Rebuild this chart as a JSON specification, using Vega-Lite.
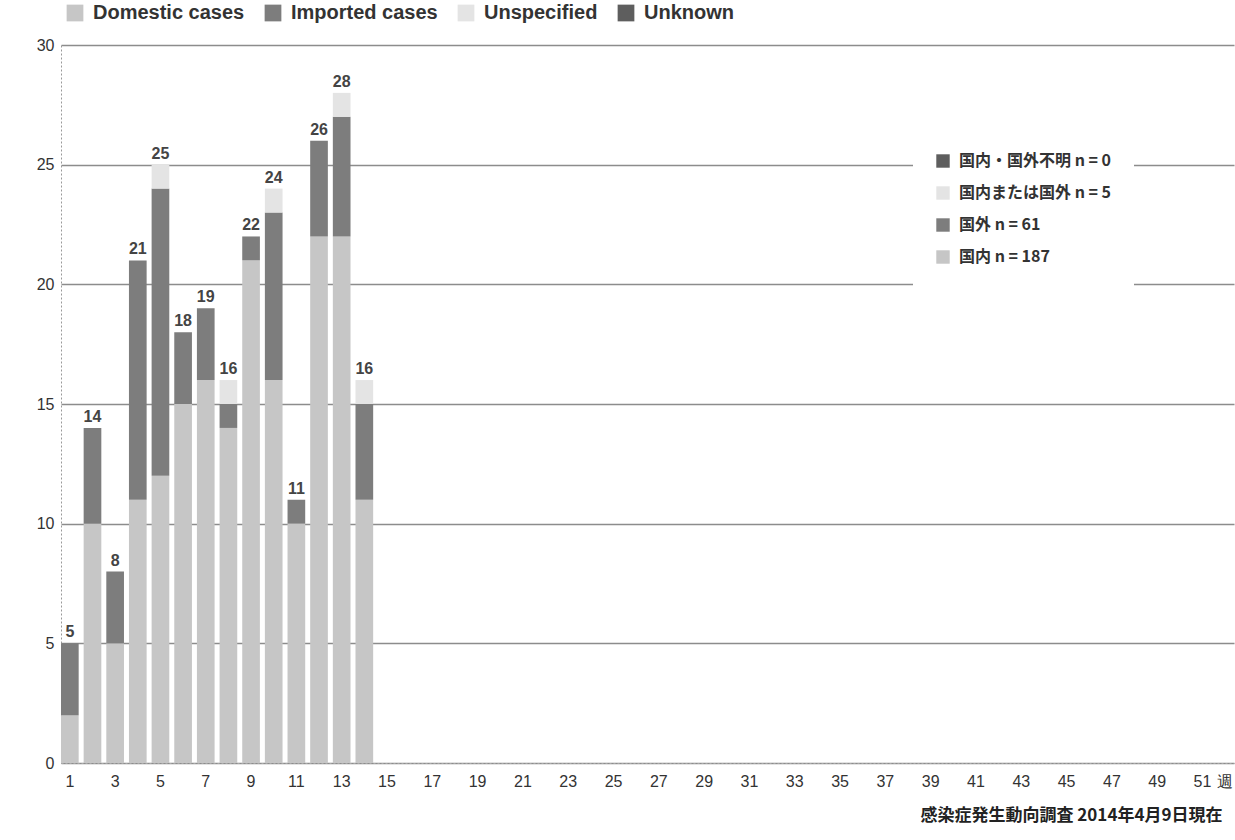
{
  "$schema": "https://vega.github.io/schema/vega-lite/v6.json",
  "width": 1173,
  "height": 718,
  "autosize": {"type": "none"},
  "padding": {"left": 61, "top": 45, "right": 1, "bottom": 77},
  "background": "white",
  "config": {"view": {"stroke": null}, "font": "Liberation Sans"},
  "data": {"values": [
    {"week": 1, "cat": "国内 n = 187", "en": "Domestic cases", "k": 1, "n": 2},
    {"week": 1, "cat": "国外 n = 61", "en": "Imported cases", "k": 2, "n": 3},
    {"week": 2, "cat": "国内 n = 187", "en": "Domestic cases", "k": 1, "n": 10},
    {"week": 2, "cat": "国外 n = 61", "en": "Imported cases", "k": 2, "n": 4},
    {"week": 3, "cat": "国内 n = 187", "en": "Domestic cases", "k": 1, "n": 5},
    {"week": 3, "cat": "国外 n = 61", "en": "Imported cases", "k": 2, "n": 3},
    {"week": 4, "cat": "国内 n = 187", "en": "Domestic cases", "k": 1, "n": 11},
    {"week": 4, "cat": "国外 n = 61", "en": "Imported cases", "k": 2, "n": 10},
    {"week": 5, "cat": "国内 n = 187", "en": "Domestic cases", "k": 1, "n": 12},
    {"week": 5, "cat": "国外 n = 61", "en": "Imported cases", "k": 2, "n": 12},
    {"week": 5, "cat": "国内または国外 n = 5", "en": "Unspecified", "k": 3, "n": 1},
    {"week": 6, "cat": "国内 n = 187", "en": "Domestic cases", "k": 1, "n": 15},
    {"week": 6, "cat": "国外 n = 61", "en": "Imported cases", "k": 2, "n": 3},
    {"week": 7, "cat": "国内 n = 187", "en": "Domestic cases", "k": 1, "n": 16},
    {"week": 7, "cat": "国外 n = 61", "en": "Imported cases", "k": 2, "n": 3},
    {"week": 8, "cat": "国内 n = 187", "en": "Domestic cases", "k": 1, "n": 14},
    {"week": 8, "cat": "国外 n = 61", "en": "Imported cases", "k": 2, "n": 1},
    {"week": 8, "cat": "国内または国外 n = 5", "en": "Unspecified", "k": 3, "n": 1},
    {"week": 9, "cat": "国内 n = 187", "en": "Domestic cases", "k": 1, "n": 21},
    {"week": 9, "cat": "国外 n = 61", "en": "Imported cases", "k": 2, "n": 1},
    {"week": 10, "cat": "国内 n = 187", "en": "Domestic cases", "k": 1, "n": 16},
    {"week": 10, "cat": "国外 n = 61", "en": "Imported cases", "k": 2, "n": 7},
    {"week": 10, "cat": "国内または国外 n = 5", "en": "Unspecified", "k": 3, "n": 1},
    {"week": 11, "cat": "国内 n = 187", "en": "Domestic cases", "k": 1, "n": 10},
    {"week": 11, "cat": "国外 n = 61", "en": "Imported cases", "k": 2, "n": 1},
    {"week": 12, "cat": "国内 n = 187", "en": "Domestic cases", "k": 1, "n": 22},
    {"week": 12, "cat": "国外 n = 61", "en": "Imported cases", "k": 2, "n": 4},
    {"week": 13, "cat": "国内 n = 187", "en": "Domestic cases", "k": 1, "n": 22},
    {"week": 13, "cat": "国外 n = 61", "en": "Imported cases", "k": 2, "n": 5},
    {"week": 13, "cat": "国内または国外 n = 5", "en": "Unspecified", "k": 3, "n": 1},
    {"week": 14, "cat": "国内 n = 187", "en": "Domestic cases", "k": 1, "n": 11},
    {"week": 14, "cat": "国外 n = 61", "en": "Imported cases", "k": 2, "n": 4},
    {"week": 14, "cat": "国内または国外 n = 5", "en": "Unspecified", "k": 3, "n": 1}
  ]},
  "encoding": {
    "x": {
      "field": "week", "type": "ordinal",
      "scale": {"domain": [1,2,3,4,5,6,7,8,9,10,11,12,13,14,15,16,17,18,19,20,21,22,23,24,25,26,27,28,29,30,31,32,33,34,35,36,37,38,39,40,41,42,43,44,45,46,47,48,49,50,51,52], "paddingInner": 0.22, "paddingOuter": 0},
      "axis": {
        "title": "感染症発生動向調査 2014年4月9日現在",
        "titleFont": "Noto Sans CJK JP", "titleFontSize": 17, "titleFontWeight": "bold", "titleColor": "#222",
        "titleAnchor": null, "titleAlign": "right", "titleX": 1161, "titleY": 52, "titleBaseline": "middle",
        "labelAngle": 0, "labelFontSize": 16, "labelColor": "#333", "labelPadding": 10,
        "labelFont": "Liberation Sans",
        "labelExpr": "datum.value == 52 ? '週' : (datum.value % 2 == 1 ? datum.value : '')",
        "ticks": false, "domainColor": "#aaa", "domainDash": [2, 2], "grid": false
      }
    }
  },
  "layer": [
    {
      "mark": {"type": "bar", "opacity": 0},
      "encoding": {
        "y": {"field": "n", "type": "quantitative", "stack": "zero", "scale": {"domain": [0, 30]}},
        "fill": {
          "field": "en", "type": "nominal",
          "scale": {"domain": ["Domestic cases", "Imported cases", "Unspecified", "Unknown"], "range": ["#c6c6c6", "#7d7d7d", "#e4e4e4", "#5e5e5e"]},
          "legend": {
            "title": null, "orient": "none", "direction": "horizontal", "legendX": 4, "legendY": -42,
            "symbolType": "square", "symbolSize": 280, "symbolOpacity": 1, "symbolStrokeWidth": 0,
            "labelFontSize": 20, "labelFontWeight": "bold", "labelColor": "#333", "labelFont": "Liberation Sans",
            "columnPadding": 18, "labelOffset": 8
          }
        }
      }
    },
    {
      "mark": {"type": "bar"},
      "encoding": {
        "y": {"field": "n", "type": "quantitative", "stack": "zero", "scale": {"domain": [0, 30]},
          "axis": {"title": null, "values": [0, 5, 10, 15, 20, 25, 30], "labelFontSize": 16, "labelColor": "#333", "labelPadding": 7,
            "ticks": false, "grid": true, "gridColor": "#8c8c8c", "gridWidth": 1.5, "domainColor": "#999", "domainDash": [2, 2]}},
        "color": {
          "field": "cat", "type": "nominal",
          "scale": {"domain": ["国内・国外不明 n = 0", "国内または国外 n = 5", "国外 n = 61", "国内 n = 187"], "range": ["#5e5e5e", "#e4e4e4", "#7d7d7d", "#c6c6c6"]},
          "legend": {
            "title": null, "orient": "none", "legendX": 852, "legendY": 86,
            "symbolType": "square", "symbolSize": 180, "symbolStrokeWidth": 0,
            "labelFontSize": 16, "labelFontWeight": "bold", "labelColor": "#333", "labelFont": "Noto Sans CJK JP",
            "rowPadding": 16, "labelOffset": 8, "fillColor": "white", "padding": 22
          }
        },
        "order": {"field": "k", "type": "quantitative", "sort": "ascending"}
      }
    },
    {
      "transform": [{"aggregate": [{"op": "sum", "field": "n", "as": "total"}], "groupby": ["week"]}],
      "mark": {"type": "text", "baseline": "bottom", "dy": -3, "fontSize": 16, "fontWeight": "bold", "color": "#444"},
      "encoding": {
        "y": {"field": "total", "type": "quantitative"},
        "text": {"field": "total", "type": "quantitative"}
      }
    }
  ]
}
